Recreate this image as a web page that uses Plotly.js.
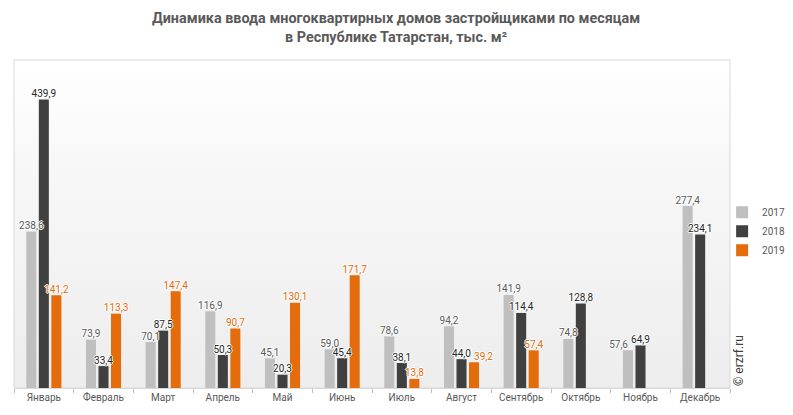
<!DOCTYPE html>
<html>
<head>
<meta charset="utf-8">
<script src="https://cdn.plot.ly/plotly-3.0.1.min.js"></script>
<style>
  body { margin: 0; background: #fff; }
  #wrap { position: relative; width: 793px; height: 415px; }
  #bg { position: absolute; left: 14px; top: 60px; width: 716px; height: 328px;
        background: linear-gradient(to bottom, #ffffff 0%, #f8f8f8 30%, #ededed 100%); }
  #chart { position: absolute; left: 0; top: 0; width: 793px; height: 415px; }
</style>
</head>
<body>
<div id="wrap">
  <div id="bg"></div>
  <div id="chart"></div>
</div>
<script>
var months = ['Январь', 'Февраль', 'Март', 'Апрель', 'Май', 'Июнь', 'Июль', 'Август', 'Сентябрь', 'Октябрь', 'Ноябрь', 'Декабрь'];
var y2017 = [238.6, 73.9, 70.1, 116.9, 45.1, 59.0, 78.6, 94.2, 141.9, 74.8, 57.6, 277.4];
var y2018 = [439.9, 33.4, 87.5, 50.3, 20.3, 45.4, 38.1, 44.0, 114.4, 128.8, 64.9, 234.1];
var y2019 = [141.2, 113.3, 147.4, 90.7, 130.1, 171.7, 13.8, 39.2, 57.4, null, null, null];

var years = ['2017', '2018', '2019'];
var values = [y2017, y2018, y2019];
var barColors = ['#bfbfbf', '#404040', '#e46c0a'];
var labelColors = ['#595959', '#262626', '#e46c0a'];

var halo = '1px 0 0 #fff, -1px 0 0 #fff, 0 1px 0 #fff, 0 -1px 0 #fff';

// a couple of labels are nudged sideways so they don't collide with the neighbour
function labelPos(i) {
    return months.map(function (m) {
        if (i === 2 && m === 'Август') return 'top right';
        if (i === 0 && m === 'Ноябрь') return 'top left';
        return 'top center';
    });
}

var traces = [];
// bars first
for (var i = 0; i < years.length; i++) {
    traces.push({
        type: 'bar',
        name: years[i],
        x: months,
        y: values[i],
        offsetgroup: years[i],
        marker: { color: barColors[i] },
        hoverinfo: 'x+y'
    });
}
// value labels drawn above all bars
for (var i = 0; i < years.length; i++) {
    traces.push({
        type: 'scatter',
        mode: 'text',
        x: months,
        y: values[i],
        offsetgroup: years[i],
        texttemplate: '%{y:.1f}',
        textposition: labelPos(i),
        textfont: { family: 'Roboto, Arial, sans-serif', size: 10, color: labelColors[i], shadow: halo },
        cliponaxis: false,
        showlegend: false,
        hoverinfo: 'skip'
    });
}

var layout = {
    width: 793,
    height: 415,
    margin: { l: 14, r: 63, t: 60, b: 27, autoexpand: false },
    paper_bgcolor: 'rgba(0,0,0,0)',
    plot_bgcolor: 'rgba(0,0,0,0)',
    separators: ',.',
    barmode: 'group',
    scattermode: 'group',
    bargap: 0.37,
    bargroupgap: 0.2,
    font: { family: 'Roboto, Arial, sans-serif', size: 10, color: '#595959' },
    xaxis: {
        type: 'category',
        showline: true,
        linecolor: '#d9d9d9',
        linewidth: 1,
        ticks: 'outside',
        tickson: 'boundaries',
        ticklen: 4,
        tickcolor: '#bfbfbf',
        showgrid: false,
        tickfont: { size: 10, color: '#595959' },
        fixedrange: true
    },
    yaxis: {
        range: [0, 500],
        visible: false,
        showgrid: false,
        zeroline: false,
        fixedrange: true
    },
    shapes: [{
        type: 'rect', xref: 'paper', yref: 'paper',
        x0: 0, x1: 1, y0: 0, y1: 1,
        line: { color: '#d9d9d9', width: 1 },
        fillcolor: 'rgba(0,0,0,0)',
        layer: 'below'
    }],
    legend: {
        x: 0.989,
        xanchor: 'left',
        y: 0.58,
        yanchor: 'top',
        font: { size: 10, color: '#595959' },
        bgcolor: 'rgba(0,0,0,0)',
        itemwidth: 30,
        tracegroupgap: 0
    },
    annotations: [{
        text: '<b>Динамика ввода многоквартирных домов застройщиками по месяцам<br>в Республике Татарстан, тыс. м²</b>',
        xref: 'paper', yref: 'paper',
        x: 0.534, y: 1.0976,
        xanchor: 'center', yanchor: 'middle',
        showarrow: false,
        font: { family: '"Liberation Sans Narrow", Roboto, sans-serif', size: 14.4, color: '#595959' }
    }, {
        text: '© erzrf.ru',
        xref: 'paper', yref: 'paper',
        x: 1.012, y: 0,
        xanchor: 'center', yanchor: 'bottom',
        textangle: -90,
        showarrow: false,
        font: { family: 'Roboto, Arial, sans-serif', size: 12, color: '#404040' }
    }]
};

Plotly.newPlot('chart', traces, layout, { displayModeBar: false, staticPlot: true });
</script>
</body>
</html>
